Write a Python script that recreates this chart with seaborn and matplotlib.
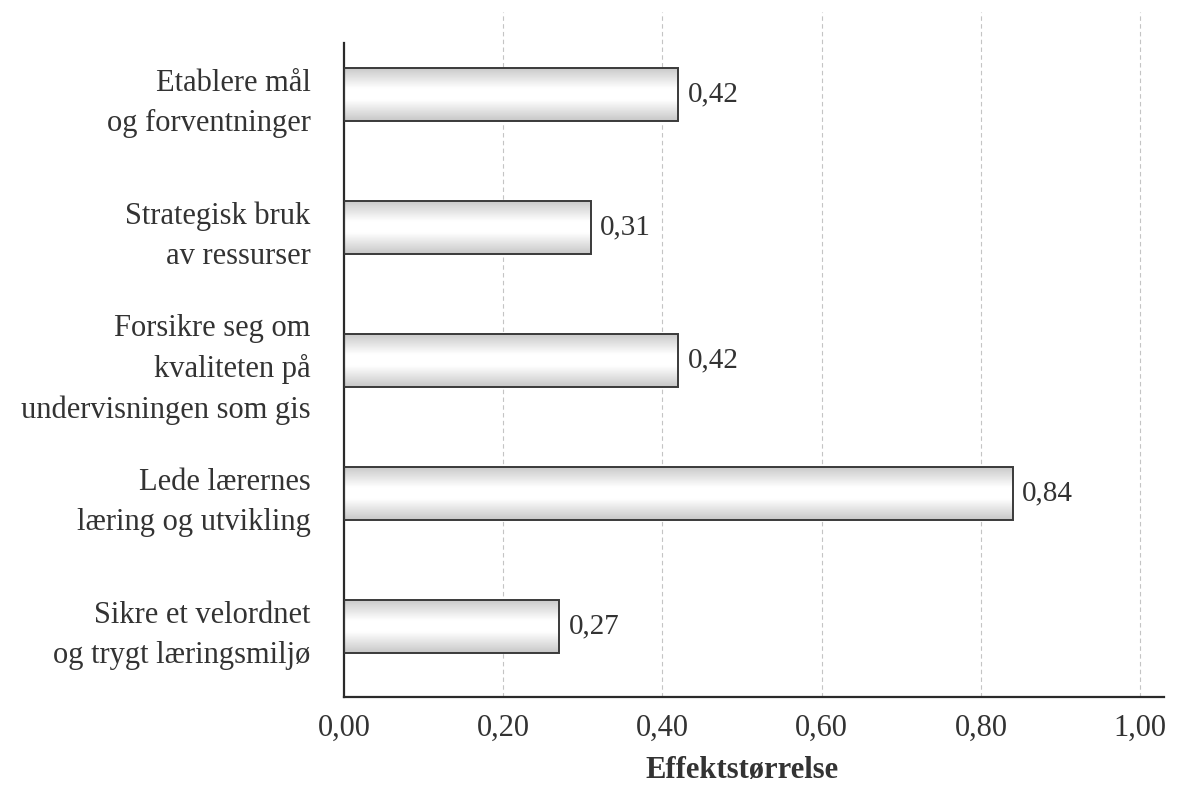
import numpy as np
import pandas as pd
import matplotlib
matplotlib.use("Agg")
import matplotlib.pyplot as plt
import seaborn as sns

categories = [
    "Etablere mål\nog forventninger",
    "Strategisk bruk\nav ressurser",
    "Forsikre seg om\nkvaliteten på\nundervisningen som gis",
    "Lede lærernes\nlæring og utvikling",
    "Sikre et velordnet\nog trygt læringsmiljø",
]
effects = [0.42, 0.31, 0.42, 0.84, 0.27]
x_ticks = [0.0, 0.2, 0.4, 0.6, 0.8, 1.0]

df = pd.DataFrame({"kategori": categories, "effekt": effects})

sns.set_theme(style="white")
plt.rcParams["font.family"] = ["Liberation Serif", "DejaVu Serif"]

fig = plt.figure(figsize=(11.88, 7.91), dpi=100)
ax = fig.add_axes([344 / 1188, 1 - 697 / 791, (1164 - 344) / 1188, (697 - 12) / 791])

sns.barplot(data=df, x="effekt", y="kategori", orient="h", color="white",
            width=0.4, edgecolor="#3a3a3a", linewidth=1.4, ax=ax, zorder=3)

ax.set_xlim(0, 1.03)
ax.set_ylim(4.53, -0.62)

# soft grey-to-white-to-grey shading inside every bar
grad = np.concatenate([np.linspace(0.78, 1.0, 40), np.ones(20), np.linspace(1.0, 0.78, 40)])
grad_img = np.tile(grad[:, None], (1, 2))
for patch in ax.patches:
    x0, y0 = patch.get_x(), patch.get_y()
    w, h = patch.get_width(), patch.get_height()
    im = ax.imshow(grad_img, cmap="gray", vmin=0, vmax=1, aspect="auto",
                   extent=(x0, x0 + w, y0 + h, y0), zorder=2.5, interpolation="bilinear")
    im.set_clip_path(patch)
    patch.set_facecolor("none")
ax.set_xlim(0, 1.03)
ax.set_ylim(4.53, -0.62)

for i, v in enumerate(effects):
    ax.text(v + 0.012, i, f"{v:.2f}".replace(".", ","), va="center", ha="left",
            fontsize=21, color="#333333")

for xv in x_ticks[1:]:
    ax.axvline(xv, color="#c4c4c4", linewidth=0.8, linestyle=(0, (4, 3)), zorder=1)

ax.set_xticks(x_ticks)
ax.set_xticklabels([f"{t:.2f}".replace(".", ",") for t in x_ticks], fontsize=22, color="#333333")
ax.tick_params(axis="x", length=0, pad=12)
ax.tick_params(axis="y", length=0, pad=24, labelsize=22, labelcolor="#333333")
for lbl in ax.get_yticklabels():
    lbl.set_multialignment("right")
    lbl.set_linespacing(1.5)

ax.set_ylabel("")
ax.set_xlabel("")
ax.text(0.5, -0.107, "Effektstørrelse", transform=ax.get_xaxis_transform(),
        ha="center", va="center", fontsize=22, fontweight="bold", color="#333333")

for s in ["top", "right"]:
    ax.spines[s].set_visible(False)
ax.spines["left"].set_color("#2a2a2a")
ax.spines["bottom"].set_color("#2a2a2a")
ax.spines["left"].set_linewidth(1.6)
ax.spines["bottom"].set_linewidth(1.6)
ax.spines["left"].set_bounds(4.53, -0.39)

fig.savefig("out.png", dpi=100, facecolor="white")
